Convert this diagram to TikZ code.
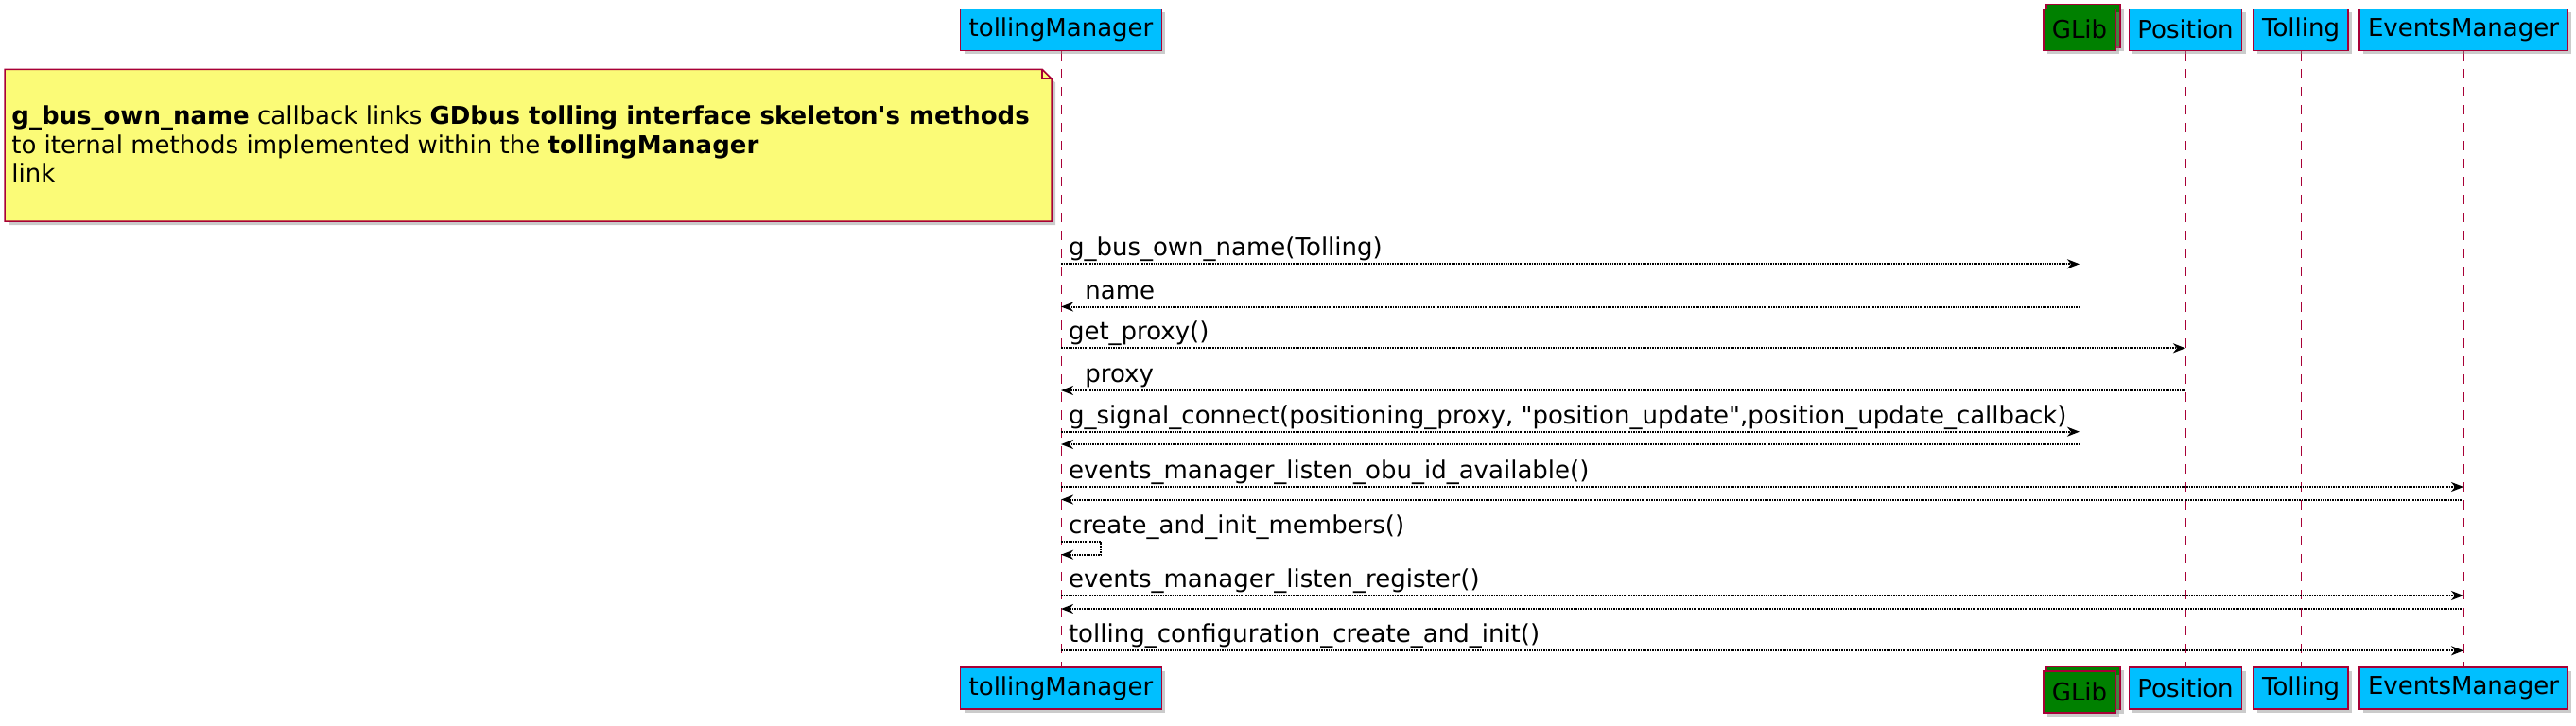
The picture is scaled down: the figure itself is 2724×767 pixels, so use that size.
\documentclass[tikz,border=0pt]{standalone}
\usepackage{fontspec}
\setmainfont{DejaVu Sans}[Ligatures=TeXOff]
\usepackage{tikz}
\usetikzlibrary{arrows.meta,shadows,backgrounds}
\definecolor{lifered}{HTML}{A80036}
\definecolor{partblue}{HTML}{00BFFF}
\definecolor{glibgreen}{HTML}{008000}
\definecolor{noteyellow}{HTML}{FBFB77}

\begin{document}
\begin{tikzpicture}[
  x=0.5pt, y=-0.5pt,
  every node/.style={font=\fontsize{13}{15.25}\selectfont},
  part/.style={
    rectangle, draw=lifered, fill=partblue, line width=0.8pt,
    minimum height=22pt, inner xsep=4.5pt, inner ysep=0pt,
    drop shadow={shadow xshift=2pt, shadow yshift=-2pt, fill=black!45, opacity=0.45}
  },
  coll/.style={part, fill=glibgreen},
  backbox/.style={draw=lifered, fill=glibgreen, line width=0.8pt,
    drop shadow={shadow xshift=2pt, shadow yshift=-2pt, fill=black!45, opacity=0.45}},
  life/.style={draw=lifered, line width=0.5pt, dash pattern=on 5pt off 4.5pt},
  msg/.style={
    line width=1pt, dash pattern=on 0.75pt off 0.5pt,
    -{Stealth[length=6.5pt, width=5pt, inset=2pt]}
  },
  lbl/.style={anchor=base west, inner sep=0pt, xshift=3.5pt, yshift=4.25pt},
  retlbl/.style={lbl, xshift=8.7pt}
]
  \useasboundingbox (0,0) rectangle (2724,767);

  % participants, top and bottom
  \foreach \p/\x/\txt in {tm/1122/tollingManager, pos/2311/Position,
      toll/2433/Tolling, evm/2605/EventsManager} {
    \node[part] (\p) at (\x,31.3) {\txt};
    \node[part] (\p-b) at (\x,727.9) {\txt};
  }
  \node[coll] (glib) at (2199,31.3) {GLib};
  \node[coll] (glib-b) at (2199,731.8) {GLib};

  % lifelines and the stacked GLib boxes behind
  \begin{scope}[on background layer]
    \foreach \p in {tm,glib,pos,toll,evm}
      \draw[life] (\p.south) -- (\p-b.north);
    \foreach \p in {glib,glib-b}
      \draw[backbox] ([xshift=2pt,yshift=2pt]\p.south west)
        rectangle ([xshift=2pt,yshift=2pt]\p.north east);
  \end{scope}

  % note
  \coordinate (nw) at (5,73.3);
  \coordinate (ne) at (1102,73.3);
  \coordinate (nf) at (1112,83.3);
  \coordinate (se) at (1112,234);
  \coordinate (sw) at (5,234);
  \draw[draw=lifered, fill=noteyellow, line width=0.75pt,
    drop shadow={shadow xshift=2pt, shadow yshift=-2pt, fill=black!45, opacity=0.45}]
    (nw) -- (ne) -- (nf) -- (se) -- (sw) -- cycle;
  \draw[draw=lifered, line width=0.75pt] (ne) -- (ne |- nf) -- (nf);
  \node[anchor=west, align=left, inner sep=0pt] (notetxt) at (12,152.3)
    {\textbf{g\_bus\_own\_name} callback links \textbf{GDbus tolling interface skeleton's methods}\\
     to iternal methods implemented within the \textbf{tollingManager}\\
     link};

  % calls
  \foreach \i/\y/\to/\txt in {
      1/279.3/glib/g\_bus\_own\_name(Tolling),
      3/368.3/pos/get\_proxy(),
      5/456.7/glib/{g\_signal\_connect(positioning\_proxy, "position\_update",position\_update\_callback)},
      7/515/evm/events\_manager\_listen\_obu\_id\_available(),
      10/630/evm/events\_manager\_listen\_register(),
      12/688.3/evm/tolling\_configuration\_create\_and\_init()} {
    \coordinate (r\i) at (0,\y);
    \draw[msg] (tm |- r\i) node[lbl] {\txt} -- (\to |- r\i);
  }

  % returns
  \foreach \i/\y/\from/\txt in {
      2/324.5/glib/name, 4/413/pos/proxy, 6/470/glib/{},
      8/528.5/evm/{}, 11/644/evm/{}} {
    \coordinate (r\i) at (0,\y);
    \draw[msg] (\from |- r\i) -- (tm |- r\i) node[retlbl] {\txt};
  }

  % self call
  \coordinate (s1) at (1164,572.7);
  \coordinate (s2) at (1164,586.7);
  \draw[msg] (tm |- s1) node[lbl] {create\_and\_init\_members()} -- (s1) -- (s2) -- (tm |- s2);
\end{tikzpicture}
\end{document}
